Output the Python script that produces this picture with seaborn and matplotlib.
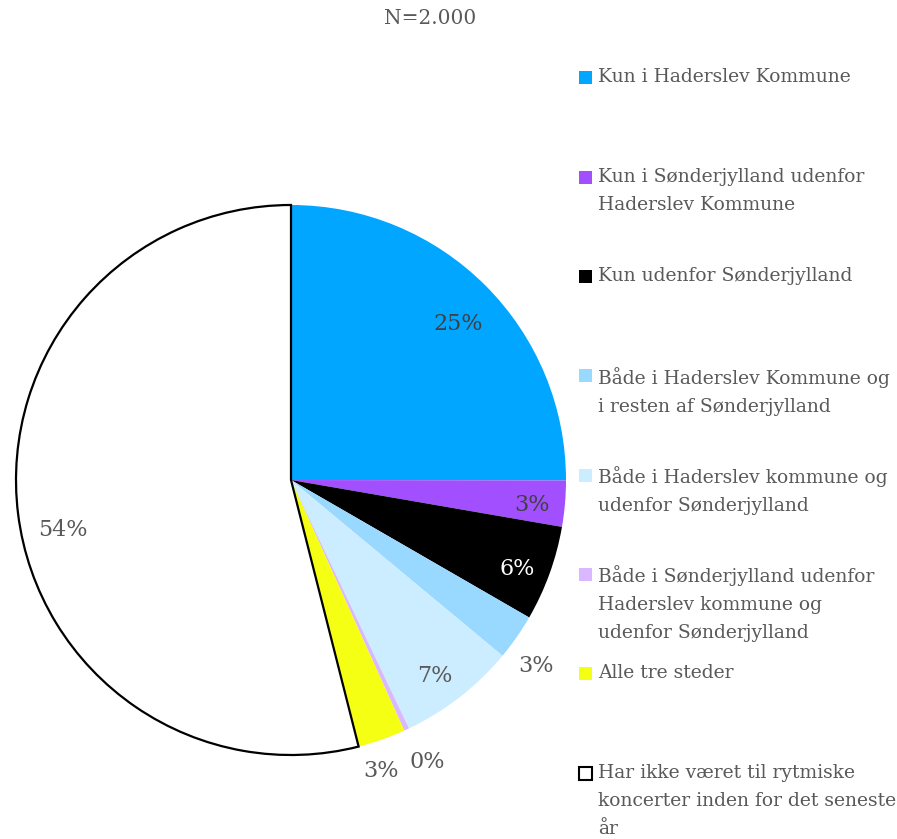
import numpy as np
import matplotlib
matplotlib.use("Agg")
import matplotlib.pyplot as plt
from matplotlib.patches import Rectangle
import seaborn as sns

# Survey answers: where respondents attended rhythmic concerts in the past year (%)
categories = [
    "Kun i Haderslev Kommune",
    "Kun i Sønderjylland udenfor\nHaderslev Kommune",
    "Kun udenfor Sønderjylland",
    "Både i Haderslev Kommune og\ni resten af Sønderjylland",
    "Både i Haderslev kommune og\nudenfor Sønderjylland",
    "Både i Sønderjylland udenfor\nHaderslev kommune og\nudenfor Sønderjylland",
    "Alle tre steder",
    "Har ikke været til rytmiske\nkoncerter inden for det seneste\når",
]
shares = [25.0, 2.7, 5.6, 2.7, 6.9, 0.3, 2.8, 53.9]
title_text = "N=2.000"

colors = ["#00A6FF", "#A24FFF", "#000000", "#99D9FF",
          "#CCECFF", "#D9B8FF", "#F5FF14", "#FFFFFF"]
label_colors = ["#404040", "#404040", "#FFFFFF", "#595959",
                "#595959", "#595959", "#595959", "#595959"]
# radial distance and angular nudge (degrees) of each percentage label
label_radius = [0.84, 0.88, 0.88, 1.11, 0.873, 1.127, 1.097, 0.847]
label_nudge = [-1.2, -0.3, -0.8, -1.9, -1.1, 1.2, -2.0, 4.4]

sns.set_theme(style="white")
plt.rcParams["font.family"] = ["DejaVu Serif"]
text_gray = "#595959"

W, H = 897, 839
fig = plt.figure(figsize=(W / 100, H / 100), dpi=100)
fig.patch.set_facecolor("white")

# pie axes: centre (291, 480) px, radius 275 px
cx, cy, r = 291, 480, 275
ax = fig.add_axes([(cx - r) / W, (H - cy - r) / H, 2 * r / W, 2 * r / H])
wedges, _ = ax.pie(shares, colors=colors, startangle=90, counterclock=False,
                   radius=1.0, wedgeprops=dict(linewidth=0))
wedges[-1].set_edgecolor("black")
wedges[-1].set_linewidth(1.6)
ax.set_xlim(-1, 1)
ax.set_ylim(-1, 1)
ax.set_aspect("equal")
ax.axis("off")

total = sum(shares)
for w, v, lc, lr, nd in zip(wedges, shares, label_colors, label_radius, label_nudge):
    mid = np.deg2rad((w.theta1 + w.theta2) / 2 + nd)
    ax.text(lr * np.cos(mid), lr * np.sin(mid) - 0.012,
            f"{round(v / total * 100):.0f}%",
            ha="center", va="center", fontsize=16, color=lc)

fig.text(430 / W, 1 - 19 / H, title_text, ha="center", va="center",
         fontsize=14.5, color=text_gray)

# legend drawn as stacked entries on the right
entry_y = [77, 177, 276, 376, 475, 574, 673, 773]
box = 13
for lab, col, y in zip(categories, colors, entry_y):
    ec = "black" if col == "#FFFFFF" else col
    fig.patches.append(Rectangle((579 / W, 1 - (y + box / 2) / H), box / W, box / H,
                                 transform=fig.transFigure, facecolor=col,
                                 edgecolor=ec, linewidth=1.5 if col == "#FFFFFF" else 0))
    fig.text(598 / W, 1 - (y - 9) / H, lab, ha="left", va="top",
             fontsize=13.5, color=text_gray, linespacing=1.72)

fig.savefig("out.png", dpi=100)
